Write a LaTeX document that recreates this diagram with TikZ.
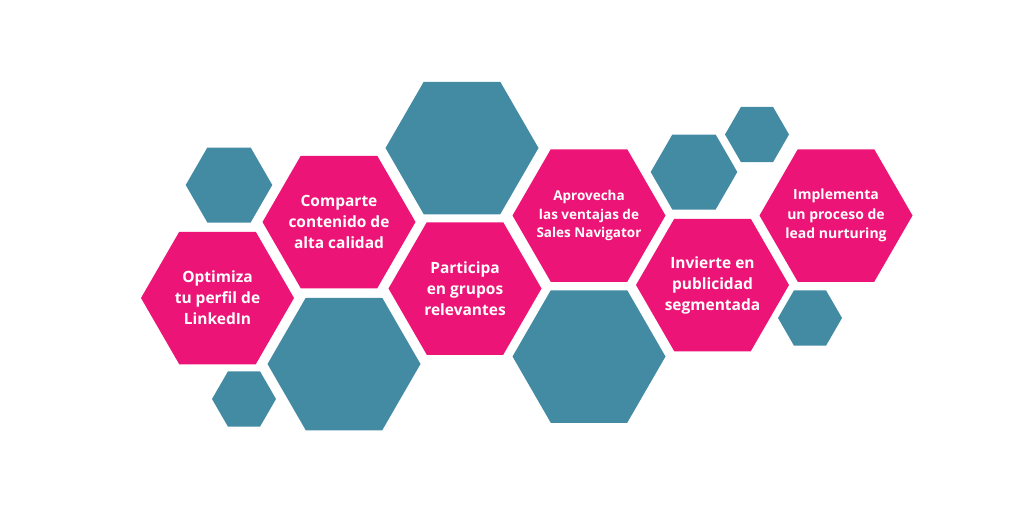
\documentclass[tikz,border=0pt]{standalone}
\usepackage{fontspec}
\setmainfont{Open Sans}
\usetikzlibrary{shapes.geometric}

\definecolor{hexpink}{RGB}{236,20,118}
\definecolor{hexteal}{RGB}{67,139,163}

\tikzstyle{hexa}   = [regular polygon, regular polygon sides=6, inner sep=0pt, outer sep=0pt, draw=none]
\tikzstyle{cpink}  = [fill=hexpink]
\tikzstyle{cteal}  = [fill=hexteal]
\tikzstyle{size1}  = [hexa, minimum size=153pt]
\tikzstyle{size2}  = [hexa, minimum size=86.6pt]
\tikzstyle{size3}  = [hexa, minimum size=64pt]
\tikzstyle{txt}    = [text=white, align=center, inner sep=0pt]
\tikzstyle{txtA}   = [txt, font=\bfseries\fontsize{15.5}{21}\selectfont]
\tikzstyle{txtB}   = [txt, font=\bfseries\fontsize{13.5}{18.3}\selectfont]
\tikzstyle{txtC}   = [txt, font=\bfseries\fontsize{14}{19.5}\selectfont]

\begin{document}
\begin{tikzpicture}[x=1pt, y=-1pt]
  \useasboundingbox (0,0) rectangle (1024,512);
  % blue filler hexagons
  \node[size2, cteal] (tealA) at (229, 185) {};
  \node[size1, cteal] (tealB) at (462, 148) {};
  \node[size1, cteal] (tealC) at (344, 364) {};
  \node[size3, cteal] (tealD) at (244, 399) {};
  \node[size1, cteal] (tealE) at (589, 356.5) {};
  \node[size2, cteal] (tealF) at (694, 172) {};
  \node[size3, cteal] (tealG) at (757, 134.5) {};
  \node[size3, cteal] (tealH) at (810, 318) {};
  % pink steps
  \node[size1, cpink] (perfil)    at (217.5, 298) {};
  \node[size1, cpink] (contenido) at (339, 222)   {};
  \node[size1, cpink] (grupos)    at (465, 288.5) {};
  \node[size1, cpink] (sales)     at (589, 215.5) {};
  \node[size1, cpink] (publi)     at (712.5, 285) {};
  \node[size1, cpink] (lead)      at (836, 215.5) {};
  % texts
  \node[txtA] (perfiltxt)    at (perfil)    {Optimiza\\tu perfil de\\LinkedIn};
  \node[txtA] (contenidotxt) at (contenido) {Comparte\\contenido de\\alta calidad};
  \node[txtA] (grupostxt)    at (grupos)    {Participa\\en grupos\\relevantes};
  \node[txtB] (salestxt)     at (sales)     {Aprovecha\\las ventajas de\\Sales Navigator};
  \node[txtA] (publitxt)     at (publi)     {Invierte en\\publicidad\\segmentada};
  \node[txtC] (leadtxt)      at (lead)      {Implementa\\un proceso de\\lead nurturing};
\end{tikzpicture}
\end{document}
